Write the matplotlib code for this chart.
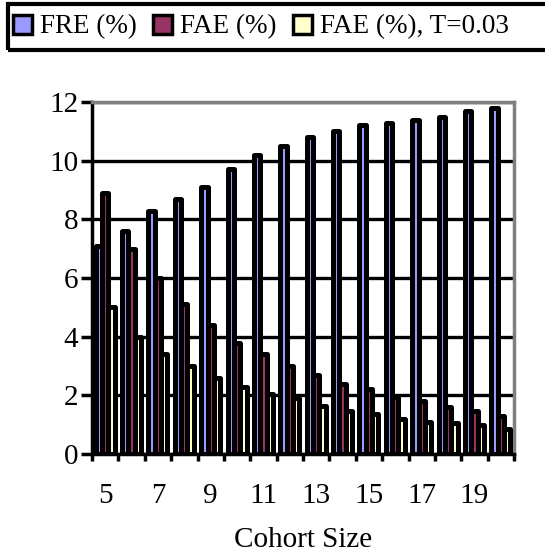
import numpy as np
import matplotlib.pyplot as plt
from matplotlib.patches import Patch, Rectangle

plt.rcParams['font.family'] = ['Liberation Serif', 'DejaVu Serif']

# data
cohort = list(range(5, 21))
fre = [7.1, 7.6, 8.3, 8.7, 9.1, 9.7, 10.2, 10.5, 10.8, 11.0, 11.2, 11.3, 11.4, 11.5, 11.7, 11.8]
fae = [8.9, 7.0, 6.0, 5.1, 4.4, 3.8, 3.4, 3.0, 2.7, 2.4, 2.2, 1.95, 1.8, 1.6, 1.45, 1.3]
fae_t = [5.0, 4.0, 3.4, 3.0, 2.6, 2.3, 2.05, 1.9, 1.65, 1.45, 1.35, 1.2, 1.1, 1.05, 1.0, 0.85]
labels = ['FRE (%)', 'FAE (%)', 'FAE (%), T=0.03']
colors = ['#9999FF', '#993366', '#FFFFCC']

fig = plt.figure(figsize=(5.45, 5.54), dpi=100)
ax = fig.add_axes([92/545, 1 - 454/554, 422/545, 352/554])

x = np.arange(len(cohort))
w = 0.24
for k, vals in enumerate([fre, fae, fae_t]):
    bars = ax.bar(x + (k - 1) * w, vals, width=w, color=colors[k],
                  edgecolor='black', linewidth=3.6, zorder=3)
    for b in bars:
        b.set_joinstyle('round')

ax.set_xlim(-0.5, len(cohort) - 0.5)
ax.set_ylim(0, 12)
ax.set_yticks(range(0, 13, 2))
ax.yaxis.grid(True, color='black', linewidth=2.4, zorder=1)
ax.set_axisbelow(True)

ax.set_xticks(x[::2])
ax.set_xticklabels([str(c) for c in cohort[::2]])
ax.set_xticks(np.arange(-0.5, len(cohort), 1), minor=True)
ax.tick_params(axis='x', which='major', length=0, pad=21, labelsize=21)
ax.tick_params(axis='x', which='minor', length=5, width=2.5, color='black')
ax.tick_params(axis='y', length=8, width=2.5, color='black', labelsize=21, pad=2)

for s in ['left', 'bottom']:
    ax.spines[s].set_color('black')
    ax.spines[s].set_linewidth(2.5)
for s in ['top', 'right']:
    ax.spines[s].set_color('#808080')
    ax.spines[s].set_linewidth(2.5)

fig.text(303/545, 1 - 540/554, 'Cohort Size', ha='center', va='center', fontsize=21)

# legend box across the top
fig.patches.append(Rectangle((8/545, 1 - 50/554), 560/545, 46/554, transform=fig.transFigure,
                             fill=False, edgecolor='black', linewidth=3))
handles = [Patch(facecolor=c, edgecolor='black', linewidth=2.5) for c in colors]
fig.legend(handles, labels, loc='center left', bbox_to_anchor=(13/545, 1 - 27/554),
           ncol=3, frameon=False, fontsize=19.5, handlelength=0.7, handleheight=0.7,
           handletextpad=0.3, columnspacing=0.6, borderpad=0, borderaxespad=0)

fig.savefig('out.png', dpi=100)
